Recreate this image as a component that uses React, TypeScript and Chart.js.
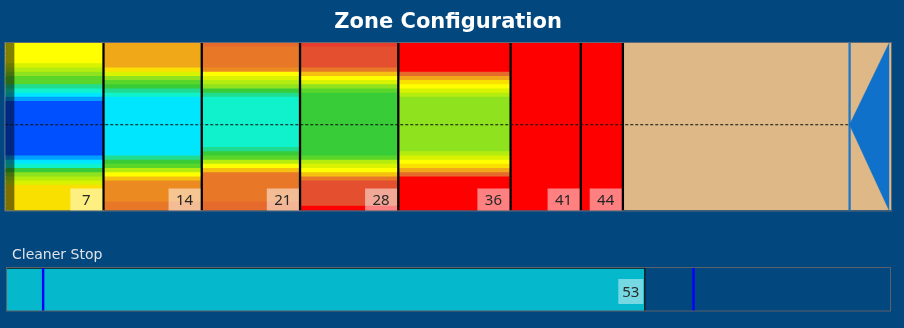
import React, { useEffect, useRef } from 'react';
import { Chart, registerables } from 'chart.js';

Chart.register(...registerables);

const BG = '#02477d';

// ---- Zone configuration data ----
const ZONE_ENDS = [7, 14, 21, 28, 36, 41, 44];
const ZONE_LABELS = ['7', '14', '21', '28', '36', '41', '44'];
const BAND_END = 63.1;
const TAN_START = 44;
const NOZZLE_POS = 60.15;
const NOZZLE_TIP = 62.97;
const CENTER_LEVEL = 0.512;
const DARK_STRIP_END = 0.65;

// colour levels (cold -> hot)
const PALETTE = [
  '#0050ff', '#00a0ff', '#00e6ff', '#10f2cc', '#20dc90',
  '#38cc38', '#5ad52a', '#8ee21e', '#b4ec10', '#d8f200',
  '#ffff00', '#fae000', '#f5c010', '#f0a818', '#ec8a22',
  '#e87828', '#e66a2c', '#e4502f', '#e83c2c', '#ff0000',
];

// per-zone vertical profiles (top row -> bottom row), colour level per row
const ZONE1 = [10, 10, 10, 10, 10, 9, 8, 7, 6, 6, 4, 3, 2, 1, 0, 0, 0, 0, 0, 0, 0, 0, 0, 0, 0, 0, 0, 1, 2, 3, 5, 7, 8, 9, 11, 11, 11, 11, 11, 11];
const ZONE2 = [13, 13, 13, 13, 13, 13, 11, 9, 7, 6, 5, 4, 3, 2, 2, 2, 2, 2, 2, 2, 2, 2, 2, 2, 2, 2, 2, 4, 5, 6, 8, 10, 12, 14, 14, 14, 14, 14, 15, 15];
const ZONE3 = [16, 15, 15, 15, 15, 15, 14, 10, 9, 8, 7, 5, 4, 3, 3, 3, 3, 3, 3, 3, 3, 3, 3, 3, 3, 4, 5, 6, 8, 10, 12, 15, 15, 15, 15, 15, 15, 15, 16, 16];
const ZONE4 = [18, 17, 17, 17, 17, 17, 15, 12, 10, 9, 7, 6, 5, 5, 5, 5, 5, 5, 5, 5, 5, 5, 5, 5, 5, 5, 5, 6, 8, 9, 10, 12, 15, 17, 17, 17, 17, 17, 17, 19];
const ZONE5 = [19, 19, 19, 19, 19, 19, 19, 16, 13, 11, 10, 9, 8, 7, 7, 7, 7, 7, 7, 7, 7, 7, 7, 7, 7, 7, 8, 9, 10, 11, 13, 16, 19, 19, 19, 19, 19, 19, 19, 19];
const ZONE6 = [19, 19, 19, 19, 19, 19, 19, 19, 19, 19, 19, 19, 19, 19, 19, 19, 19, 19, 19, 19, 19, 19, 19, 19, 19, 19, 19, 19, 19, 19, 19, 19, 19, 19, 19, 19, 19, 19, 19, 19];
const ZONE7 = [19, 19, 19, 19, 19, 19, 19, 19, 19, 19, 19, 19, 19, 19, 19, 19, 19, 19, 19, 19, 19, 19, 19, 19, 19, 19, 19, 19, 19, 19, 19, 19, 19, 19, 19, 19, 19, 19, 19, 19];
const ZONE_PROFILES = [ZONE1, ZONE2, ZONE3, ZONE4, ZONE5, ZONE6, ZONE7];

// ---- Cleaner stop data ----
const CLEANER_STOP = 53;
const CLEANER_MAX = 73.4;
const CLEANER_MARKS = [3, 57];

const ROWS = ZONE1.map((_, i) => String(i));

const zonePlugin = {
  id: 'zoneLabels',
  afterDatasetsDraw(chart: any) {
    const { ctx, chartArea, scales } = chart;
    const x = scales.x;
    ctx.save();
    ctx.strokeStyle = 'rgba(105,110,120,0.9)';
    ctx.lineWidth = 1;
    ctx.strokeRect(chartArea.left - 0.5, chartArea.top - 0.5, chartArea.width + 1, chartArea.height + 1);
    const w = 32, h = 22;
    ZONE_ENDS.forEach((end, i) => {
      const r = x.getPixelForValue(end) - 1.2;
      const b = chartArea.bottom;
      ctx.fillStyle = 'rgba(255,255,255,0.5)';
      ctx.fillRect(r - w, b - h, w, h);
      ctx.fillStyle = '#262626';
      ctx.font = '15px "Noto Sans"';
      ctx.textAlign = 'center';
      ctx.textBaseline = 'middle';
      ctx.fillText(ZONE_LABELS[i], r - w / 2, b - h / 2 + 1);
    });
    ctx.restore();
  },
};

const cleanerPlugin = {
  id: 'cleanerDecor',
  afterDatasetsDraw(chart: any) {
    const { ctx, chartArea, scales } = chart;
    const x = scales.x;
    ctx.save();
    ctx.strokeStyle = '#5c6068';
    ctx.lineWidth = 1;
    ctx.strokeRect(chartArea.left - 0.5, chartArea.top - 0.5, chartArea.width, chartArea.height + 0.5);
    const r = x.getPixelForValue(CLEANER_STOP) - 2;
    const w = 25, h = 25;
    const t = chartArea.top + 11;
    ctx.fillStyle = 'rgba(255,255,255,0.45)';
    ctx.fillRect(r - w, t, w, h);
    ctx.fillStyle = '#2a2a2a';
    ctx.font = '15px "Noto Sans"';
    ctx.textAlign = 'center';
    ctx.textBaseline = 'middle';
    ctx.fillText(String(CLEANER_STOP), r - w / 2, t + h / 2 + 1);
    ctx.fillStyle = '#dfe3ea';
    ctx.font = '14px "DejaVu Sans"';
    ctx.textAlign = 'left';
    ctx.textBaseline = 'alphabetic';
    ctx.fillText('Cleaner Stop', 12, chartArea.top - 9);
    ctx.restore();
  },
};

export default function App() {
  const ref1 = useRef<HTMLCanvasElement>(null);
  const ref2 = useRef<HTMLCanvasElement>(null);

  useEffect(() => {
    document.body.style.margin = '0';
    document.body.style.background = BG;

    const heatSets = ZONE_PROFILES.map((prof, z) => ({
      type: 'bar' as const,
      label: 'Zone ' + (z + 1),
      data: prof.map(() => [z === 0 ? 0 : ZONE_ENDS[z - 1], ZONE_ENDS[z]]),
      backgroundColor: prof.map((l) => PALETTE[l]),
      inflateAmount: 0.6,
      order: 10,
    }));

    const lineBase = { type: 'line' as const, yAxisID: 'yt', pointRadius: 0, tension: 0 };

    const c1 = new Chart(ref1.current!, {
      type: 'bar',
      data: {
        labels: ROWS,
        datasets: [
          ...heatSets,
          {
            ...lineBase,
            label: 'Free',
            data: [{ x: BAND_END, y: 0 }, { x: BAND_END, y: 1 }],
            borderColor: '#deb887',
            borderWidth: 0,
            backgroundColor: '#deb887',
            fill: { value: TAN_START },
            order: 9,
          },
          {
            ...lineBase,
            label: 'Entry',
            data: [{ x: DARK_STRIP_END, y: 0 }, { x: DARK_STRIP_END, y: 1 }],
            borderColor: 'rgba(0,0,0,0)',
            borderWidth: 0,
            backgroundColor: 'rgba(0,0,0,0.5)',
            fill: { value: 0 },
            order: 6,
          },
          ...ZONE_ENDS.map((e) => ({
            ...lineBase,
            label: 'sep' + e,
            data: [{ x: e, y: 0 }, { x: e, y: 1 }],
            borderColor: '#000000',
            borderWidth: 2.3,
            order: 3,
          })),
          {
            ...lineBase,
            label: 'center',
            data: [{ x: 0, y: CENTER_LEVEL }, { x: NOZZLE_POS, y: CENTER_LEVEL }],
            borderColor: '#111111',
            borderWidth: 1,
            borderDash: [3, 2],
            order: 2,
          },
          {
            ...lineBase,
            label: 'nozzle',
            data: [{ x: NOZZLE_TIP, y: 1 }, { x: NOZZLE_POS, y: CENTER_LEVEL }, { x: NOZZLE_TIP, y: 0 }],
            borderColor: '#0f71c9',
            backgroundColor: '#0f71c9',
            borderWidth: 0.5,
            fill: { value: NOZZLE_TIP },
            order: 1,
          },
          {
            ...lineBase,
            label: 'nozzleLine',
            data: [{ x: NOZZLE_POS, y: 0 }, { x: NOZZLE_POS, y: 1 }],
            borderColor: '#1f77c8',
            borderWidth: 2.3,
            order: 1,
          },
        ] as any,
      },
      options: {
        indexAxis: 'y',
        responsive: false,
        animation: false,
        devicePixelRatio: 1,
        layout: { padding: { left: 5.25, right: 13, top: 0, bottom: 5.5 } },
        datasets: {
          bar: { grouped: false, categoryPercentage: 1, barPercentage: 1, borderWidth: 0 } as any,
        },
        scales: {
          x: { type: 'linear', min: 0, max: BAND_END, display: false },
          y: { type: 'category', offset: true, display: false },
          yt: { type: 'linear', min: 0, max: 1, offset: false, display: false, position: 'left' },
        } as any,
        plugins: {
          legend: { display: false },
          tooltip: { enabled: false },
          title: {
            display: true,
            text: 'Zone Configuration',
            color: '#ffffff',
            font: { family: '"DejaVu Sans"', size: 21, weight: 'bold', lineHeight: 1.2 },
            padding: { top: 9.5, bottom: 8.3 },
          },
        },
      },
      plugins: [zonePlugin],
    });

    const c2 = new Chart(ref2.current!, {
      type: 'bar',
      data: {
        labels: ['Cleaner Stop'],
        datasets: [
          {
            type: 'bar',
            label: 'Cleaner Stop',
            data: [[0, CLEANER_STOP]],
            backgroundColor: '#05b8cc',
            borderColor: '#101010',
            borderWidth: { top: 1, right: 1.5, bottom: 0, left: 0 },
            borderSkipped: false,
            order: 5,
          },
          ...CLEANER_MARKS.map((m) => ({
            type: 'line' as const,
            yAxisID: 'ym',
            label: 'mark' + m,
            data: [{ x: m, y: 0 }, { x: m, y: 1 }],
            borderColor: '#0000ff',
            borderWidth: 2.4,
            pointRadius: 0,
            order: 1,
          })),
        ] as any,
      },
      options: {
        indexAxis: 'y',
        responsive: false,
        animation: false,
        devicePixelRatio: 1,
        layout: { padding: { left: 7, right: 13, top: 52, bottom: 17 } },
        datasets: {
          bar: { grouped: false, categoryPercentage: 1, barPercentage: 1 } as any,
        },
        scales: {
          x: { type: 'linear', min: 0, max: CLEANER_MAX, display: false },
          y: { type: 'category', offset: true, display: false },
          ym: { type: 'linear', min: 0, max: 1, offset: false, display: false, position: 'left' },
        } as any,
        plugins: {
          legend: { display: false },
          tooltip: { enabled: false },
          title: { display: false },
        },
      },
      plugins: [cleanerPlugin],
    });

    return () => {
      c1.destroy();
      c2.destroy();
    };
  }, []);

  return (
    <div style={{ width: 904, height: 328, background: BG, overflow: 'hidden' }}>
      <canvas ref={ref1} width={904} height={216} style={{ display: 'block' }} />
      <canvas ref={ref2} width={904} height={112} style={{ display: 'block' }} />
    </div>
  );
}
